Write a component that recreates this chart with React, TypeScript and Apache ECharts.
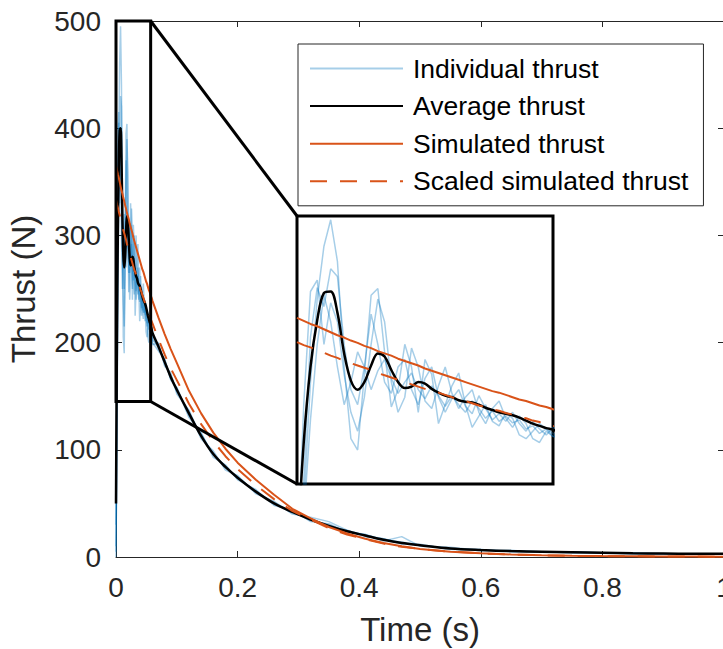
import React, { useEffect, useRef } from "react";
import * as echarts from "echarts";

// ---- data ----
const timeS = [
  0, 0.0015, 0.003, 0.0045, 0.006, 0.0075, 0.009, 0.0105, 0.012, 0.0135,
  0.015, 0.0165, 0.018, 0.0195, 0.021, 0.0225, 0.024, 0.0255, 0.027, 0.0285,
  0.03, 0.0315, 0.033, 0.0345, 0.036, 0.0375, 0.039, 0.0405, 0.042, 0.0435,
  0.045, 0.0465, 0.048, 0.0495, 0.051, 0.0525, 0.054, 0.0555, 0.057, 0.0585, 0.06,
  0.07, 0.08, 0.09, 0.1, 0.12, 0.14, 0.16, 0.18, 0.2, 0.23, 0.26, 0.29, 0.32, 0.35,
  0.38, 0.41, 0.44, 0.47, 0.5, 0.55, 0.6, 0.65, 0.7, 0.75, 0.8, 0.85, 0.9, 0.95, 1,
];

const run1 = [
  0, 120, 280, 390, 460, 495, 440, 300, 205, 190, 290, 395, 404, 320, 247, 270, 330, 300, 240, 310,
  290, 225, 250, 275, 292, 250, 220, 235, 250, 228, 222, 240, 232, 210, 205, 215, 225, 218, 212, 206, 200,
  192, 185, 165, 158, 130, 116, 93, 86, 72, 63, 48, 44, 33, 31, 23, 21, 15, 19, 10, 9, 6, 6, 5, 5, 4, 4, 3, 3, 3,
];
const run2 = [
  30, 250, 400, 415, 330, 385, 360, 290, 240, 215, 260, 330, 390, 360, 280, 240, 260, 325, 300, 255,
  245, 275, 300, 265, 245, 260, 270, 240, 225, 245, 255, 232, 220, 235, 225, 205, 200, 215, 208, 204, 198,
  200, 178, 172, 152, 137, 110, 99, 81, 76, 59, 52, 40, 37, 33, 25, 19, 17, 12, 12, 7, 7, 5, 5, 4, 4, 3, 3, 3, 3,
];
const run3 = [
  10, 150, 340, 405, 380, 430, 420, 330, 270, 250, 300, 370, 330, 280, 265, 300, 310, 270, 250, 285,
  300, 260, 240, 258, 270, 248, 238, 262, 245, 230, 238, 228, 240, 225, 215, 228, 218, 210, 220, 212, 205,
  194, 184, 166, 158, 132, 115, 95, 85, 73, 62, 49, 43, 34, 30, 24, 21, 16, 14, 11, 8, 6, 6, 5, 5, 4, 4, 3, 3, 3,
];
const run4 = [
  5, 100, 230, 330, 395, 360, 300, 250, 280, 320, 300, 270, 295, 310, 285, 265, 280, 292, 270, 258,
  275, 262, 248, 262, 250, 240, 255, 245, 232, 242, 228, 235, 226, 230, 218, 222, 212, 218, 208, 210, 202,
  198, 180, 170, 154, 136, 112, 97, 83, 75, 60, 51, 41, 36, 28, 25, 20, 17, 13, 11, 8, 7, 5, 5, 4, 4, 3, 3, 3, 3,
];
const averageThrust = [
  50, 200, 300, 362, 398, 400, 372, 318, 282, 270, 280, 302, 318, 314, 296, 280, 272, 274, 280, 278,
  271, 266, 262, 260, 256, 254, 253, 250, 246, 243, 240, 238, 236, 233, 229, 225, 222, 219, 217, 213, 209,
  196, 182, 168, 156, 134, 113, 96, 84, 74, 61, 50, 42, 35, 29, 24, 20, 16, 13, 11, 8, 6.5, 5.5, 5, 4.5, 4, 3.5, 3.2, 3, 3,
];
const simulatedThrust = [
  365, 361, 357, 354, 350, 346, 342, 339, 335, 332, 328, 325, 321, 318, 315, 311, 308, 305, 302, 298,
  295, 292, 289, 286, 283, 280, 277, 274, 271, 268, 266, 263, 260, 257, 255, 252, 249, 247, 244, 242, 239,
  223, 208, 194, 181, 155, 134, 116, 101, 88, 72, 58, 45, 36, 28, 22, 17, 13, 10, 7.5, 5, 3.5, 2.4, 1.7, 1.2, 0.9, 0.7, 0.5, 0.4, 0.3,
];
const scaledThrust = [
  333, 329, 326, 322, 319, 315, 312, 308, 305, 302, 299, 296, 292, 289, 286, 283, 280, 277, 274, 271,
  268, 266, 263, 260, 257, 255, 252, 249, 247, 244, 242, 239, 237, 234, 232, 229, 227, 225, 222, 220, 218,
  203, 189, 176, 165, 143, 124, 108, 94, 82, 67, 54, 43, 35, 27, 21, 16.5, 12.5, 9.5, 7.5, 5, 3.3, 2.3, 1.6, 1.1, 0.8, 0.6, 0.5, 0.4, 0.3,
];

const xTicks = [0, 0.2, 0.4, 0.6, 0.8, 1];
const yTicks = [0, 100, 200, 300, 400, 500];
const zoomTime = [0, 0.057];
const zoomThrust = [145, 500];
const legendNames = ["Individual thrust", "Average thrust", "Simulated thrust", "Scaled simulated thrust"];

const FONT = "'Liberation Sans', Arial, Helvetica, sans-serif";
const AX = "#262626";
const BLUE = "rgba(0,114,189,0.35)";
const ORANGE = "#D95319";

const pairs = (vals: number[]) => timeS.map((t, i) => [t, vals[i]]);
const insetPairs = (vals: number[]) => {
  const out: number[][] = [];
  for (let i = 0; i < timeS.length; i++) {
    out.push([timeS[i], vals[i]]);
    if (timeS[i] > zoomTime[1]) break;
  }
  return out;
};

const App = () => {
  const ref = useRef<HTMLDivElement>(null);
  useEffect(() => {
    document.body.style.margin = "0";
    const chart = echarts.init(ref.current!, undefined, { renderer: "svg" });

    const runs = [run1, run2, run3, run4];
    const makeSeries = (inset: boolean) => {
      const idx = inset ? 2 : 0;
      const f = inset ? insetPairs : pairs;
      const base = { type: "line", xAxisIndex: idx, yAxisIndex: idx, symbol: "none", showSymbol: false, silent: true };
      const s: any[] = runs.map((r) => ({
        ...base, name: legendNames[0], data: f(r), color: BLUE,
        lineStyle: { color: BLUE, width: 1.5 },
      }));
      s.push({ ...base, name: legendNames[1], data: f(averageThrust), smooth: 0.35, color: "#000", lineStyle: { color: "#000", width: 2.5 } });
      s.push({ ...base, name: legendNames[2], data: f(simulatedThrust), color: ORANGE, lineStyle: { color: ORANGE, width: 2 } });
      s.push({ ...base, name: legendNames[3], data: f(scaledThrust), color: ORANGE, lineStyle: { color: ORANGE, width: 2, type: [17, 13] } });
      return s;
    };

    const tickStyle = { show: true, inside: true, length: 6, lineStyle: { color: AX, width: 1 } };
    const axisLine = { show: true, onZero: false, lineStyle: { color: AX, width: 1 } };

    const option: any = {
      animation: false,
      textStyle: { fontFamily: FONT },
      grid: [
        { left: 116, top: 21, width: 608, height: 536, containLabel: false, outerBoundsMode: "none" },
        {
          left: 297, top: 216, width: 256, height: 268, show: true, borderColor: "#000", borderWidth: 3,
          backgroundColor: "#fff", containLabel: false, outerBoundsMode: "none",
        },
      ],
      xAxis: [
        {
          type: "value", gridIndex: 0, min: xTicks[0], max: xTicks[xTicks.length - 1], interval: xTicks[1] - xTicks[0],
          position: "bottom", axisLine, axisTick: tickStyle, splitLine: { show: false },
          axisLabel: { fontSize: 28, color: AX, margin: 16, fontFamily: FONT },
          name: "Time (s)", nameLocation: "middle", nameGap: 56,
          nameTextStyle: { fontSize: 33, color: AX, fontFamily: FONT },
        },
        {
          type: "value", gridIndex: 0, min: xTicks[0], max: xTicks[xTicks.length - 1], interval: xTicks[1] - xTicks[0],
          position: "top", axisLine, axisTick: tickStyle, axisLabel: { show: false }, splitLine: { show: false },
        },
        { type: "value", gridIndex: 1, min: zoomTime[0], max: zoomTime[1], show: false, splitLine: { show: false } },
      ],
      yAxis: [
        {
          type: "value", gridIndex: 0, min: yTicks[0], max: yTicks[yTicks.length - 1], interval: yTicks[1] - yTicks[0],
          position: "left", axisLine, axisTick: tickStyle, splitLine: { show: false },
          axisLabel: { fontSize: 28, color: AX, margin: 15, fontFamily: FONT },
          name: "Thrust (N)", nameLocation: "middle", nameGap: 76, nameRotate: 90,
          nameTextStyle: { fontSize: 33, color: AX, fontFamily: FONT },
        },
        {
          type: "value", gridIndex: 0, min: yTicks[0], max: yTicks[yTicks.length - 1], interval: yTicks[1] - yTicks[0],
          position: "right", axisLine, axisTick: tickStyle, axisLabel: { show: false }, splitLine: { show: false },
        },
        { type: "value", gridIndex: 1, min: zoomThrust[0], max: zoomThrust[1], show: false, splitLine: { show: false } },
      ],
      legend: {
        data: legendNames,
        orient: "vertical",
        left: 298,
        top: 44,
        padding: [11, 15, 11, 11],
        itemWidth: 93,
        itemHeight: 14,
        itemGap: 10.6,
        borderColor: AX,
        borderWidth: 1,
        backgroundColor: "#fff",
        selectedMode: false,
        itemStyle: { opacity: 0, borderWidth: 0 },
        textStyle: { fontSize: 26.5, color: "#000", lineHeight: 26, padding: [0, 0, 0, 5], fontFamily: FONT },
      },
      series: [...makeSeries(false), ...makeSeries(true)],
    };
    chart.setOption(option);

    const tl = chart.convertToPixel({ xAxisIndex: 0, yAxisIndex: 0 } as any, [zoomTime[0], zoomThrust[1]]) as number[];
    const br = chart.convertToPixel({ xAxisIndex: 0, yAxisIndex: 0 } as any, [zoomTime[1], zoomThrust[0]]) as number[];
    const itl = chart.convertToPixel({ xAxisIndex: 2, yAxisIndex: 2 } as any, [zoomTime[0], zoomThrust[1]]) as number[];
    const ibl = chart.convertToPixel({ xAxisIndex: 2, yAxisIndex: 2 } as any, [zoomTime[0], zoomThrust[0]]) as number[];
    const lineStyle = { stroke: "#000", lineWidth: 3, fill: null };
    chart.setOption({
      graphic: [
        { type: "rect", z: 100, shape: { x: tl[0], y: tl[1], width: br[0] - tl[0], height: br[1] - tl[1] }, style: lineStyle, silent: true },
        { type: "line", z: 100, shape: { x1: br[0], y1: tl[1], x2: itl[0], y2: itl[1] }, style: lineStyle, silent: true },
        { type: "line", z: 100, shape: { x1: br[0], y1: br[1], x2: ibl[0], y2: ibl[1] }, style: lineStyle, silent: true },
      ],
    });

    return () => chart.dispose();
  }, []);
  return <div ref={ref} style={{ width: 723, height: 649 }} />;
};

export default App;
